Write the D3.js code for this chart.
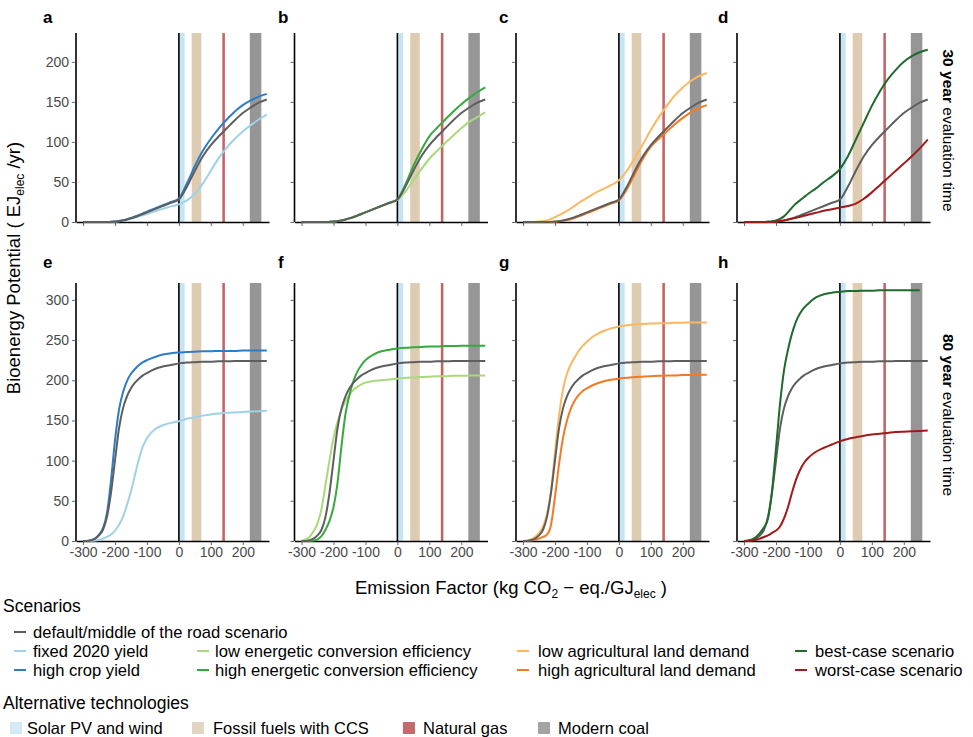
<!DOCTYPE html>
<html>
<head>
<meta charset="utf-8">
<script src="https://cdn.jsdelivr.net/npm/d3@7"></script>
<style>
  body { margin: 0; background: #fff; }
  svg { display: block; font-family: "Liberation Sans", Arial, Helvetica, sans-serif; }
</style>
</head>
<body>
<svg id="chart" width="973" height="737"></svg>
<script>
// Emission factor grid (kg CO2-eq./GJ_elec) shared by all curves
const emissionFactor = [-300, -287.5, -275, -262.5, -250, -237.5, -225, -212.5, -200, -187.5, -175, -162.5,
  -150, -137.5, -125, -112.5, -100, -75, -50, -25, 0, 25, 50, 75, 100, 125, 150, 175, 200, 225, 250, 275];

// 30 year evaluation time (EJ_elec/yr)
const default30   = [0, 0, 0, 0, 0, 0, 0, 0.2, 0.5, 1.2, 2, 3.2, 4.5, 6.2, 8, 10, 12, 16, 20, 24, 28, 44, 64, 82, 96, 107, 117, 127, 136, 143, 149, 153];
const fixedYield30 = [0, 0, 0, 0, 0, 0, 0, 0, 0.4, 1, 1.8, 2.8, 4, 5.5, 7, 8.5, 10, 13.5, 16.5, 19.5, 22, 27, 35, 48, 64, 80, 93, 104, 113, 121, 128, 134];
const highYield30  = [0, 0, 0, 0, 0, 0, 0, 0.2, 0.5, 1.3, 2.2, 3.5, 5, 6.8, 8.7, 10.8, 13, 17, 21, 25, 29.5, 48, 70, 89, 104, 117, 128, 138, 146, 152, 156.5, 160];
const lowConv30    = [0, 0, 0, 0, 0, 0, 0, 0.2, 0.5, 1.2, 2, 3.2, 4.5, 6.2, 8, 10, 12, 16, 20, 23.5, 27.5, 38, 52, 66, 79, 89, 99, 108, 117, 125, 131, 137];
const highConv30   = [0, 0, 0, 0, 0, 0, 0, 0.2, 0.5, 1.2, 2, 3.2, 4.5, 6.2, 8, 10, 12, 16, 20, 24, 28.5, 47, 70, 90, 107, 118, 128, 138, 147, 155, 162, 168];
const lowLand30    = [0, 0, 0, 0.2, 0.5, 1.2, 2, 3.8, 6, 8.5, 11, 14, 17, 20.5, 24, 27, 30, 36, 41, 46, 52, 64, 80, 97, 115, 131, 145, 158, 168, 176, 182, 186];
const highLand30   = [0, 0, 0, 0, 0, 0, 0, 0, 0.3, 0.8, 1.5, 2.5, 3.5, 5.2, 7, 9, 11, 15, 19, 23, 27, 41, 60, 79, 94, 104, 113, 122, 130, 137, 142, 146];
const best30       = [0, 0, 0, 0, 0, 0, 0.5, 1, 2, 4, 7, 12, 18, 23, 27, 31, 35, 42, 50, 57, 66, 82, 103, 124, 145, 163, 178, 190, 200, 207, 212, 215];
const worst30      = [0, 0, 0, 0, 0, 0, 0, 0, 0.5, 1.2, 2, 3, 4, 5.2, 6.5, 7.8, 9, 11.5, 14, 16, 18, 20, 23, 29, 37, 46, 55, 64, 73, 82, 92, 103];

// 80 year evaluation time (EJ_elec/yr)
const default80    = [0, 0, 1, 3, 7, 14, 30, 60, 100, 140, 165, 180, 190, 197, 202, 206, 209, 214, 217, 219, 221, 222, 222.5, 223, 223, 223.5, 223.5, 224, 224, 224, 224, 224];
const fixedYield80 = [0, 0, 0, 0.5, 1.5, 3, 5, 8, 13, 20, 30, 45, 62, 82, 102, 118, 128, 139, 144, 147, 149, 152, 154, 156, 157.5, 158.5, 159.5, 160, 160.5, 161, 161.5, 162];
const highYield80  = [0, 0, 1, 3, 8, 16, 35, 75, 125, 163, 185, 199, 208, 214, 219, 222.5, 225, 229, 232, 233.5, 234.5, 235, 235.5, 236, 236, 236.5, 236.5, 236.5, 237, 237, 237, 237];
const lowConv80    = [0, 2, 5, 12, 22, 40, 70, 100, 128, 148, 163, 174, 182, 188, 192, 195, 197, 199, 200, 201, 202, 203, 203.5, 204, 204.5, 205, 205, 205.5, 205.5, 206, 206, 206];
const highConv80   = [0, 0, 0, 0.5, 2, 6, 14, 25, 42, 72, 118, 158, 182, 199, 211, 219, 225, 232, 236, 238, 239.5, 240.5, 241, 241.5, 242, 242, 242.5, 242.5, 243, 243, 243, 243];
const lowLand80    = [0, 0.5, 2, 5, 10, 18, 34, 62, 110, 155, 188, 208, 220, 229, 237, 243, 248, 256, 261, 264.5, 267, 268.5, 269.5, 270, 270.5, 271, 271, 271.5, 271.5, 272, 272, 272];
const highLand80   = [0, 0, 0.5, 1.5, 3, 5, 8, 20, 55, 95, 128, 150, 165, 175, 182, 187, 190, 195, 198.5, 200.5, 202, 203, 204, 204.5, 205, 205.5, 206, 206, 206.5, 206.5, 207, 207];
const best80       = [0, 0.5, 2, 5, 10, 17, 28, 62, 115, 170, 212, 238, 258, 273, 283, 290, 295, 303, 307, 309, 310, 311, 311, 311.5, 311.5, 312, 312, 312, 312, 312, 312, null];
const worst80      = [0, 0, 0.5, 1.5, 3, 5, 7, 10, 13, 18, 28, 42, 60, 76, 88, 97, 103, 111, 116, 120, 124, 127, 129, 131, 132.5, 133.5, 134.5, 135.5, 136, 136.5, 137, 137.5];

// Alternative technologies: emission factor ranges
const techNames = ["Solar PV and wind", "Fossil fuels with CCS", "Natural gas", "Modern coal"];
const techFrom  = [0, 40, 136, 222];
const techTo    = [18, 70, 144, 258];

// Scenario labels and colours
const scenarioKeys   = ["default", "fixedYield", "highYield", "lowConv", "highConv", "lowLand", "highLand", "best", "worst"];
const scenarioLabels = ["default/middle of the road scenario", "fixed 2020 yield", "high crop yield",
  "low energetic conversion efficiency", "high energetic conversion efficiency",
  "low agricultural land demand", "high agricultural land demand", "best-case scenario", "worst-case scenario"];
const scenarioColors = ["#5e5e5e", "#9fd2e6", "#2d7cc6", "#a9d97c", "#37aa3c", "#fdb761", "#f27a22", "#1f6a2d", "#a11a1a"];
const techColors     = ["#b3dcef", "#d6bf9f", "#c35a5c", "#8b8b8b"];
const techLegendColors = ["#d4eaf4", "#e2d5c3", "#c46a6c", "#a3a3a3"];

const panelLetters = ["a", "b", "c", "d", "e", "f", "g", "h"];
const panelSeries = [
  ["fixedYield", "highYield", "default"],
  ["lowConv", "highConv", "default"],
  ["lowLand", "highLand", "default"],
  ["default", "best", "worst"]
];
const rowLabels = [["30 year", " evaluation time"], ["80 year", " evaluation time"]];
const yTicks = [[0, 50, 100, 150, 200], [0, 50, 100, 150, 200, 250, 300]];
const xTicks = [-300, -200, -100, 0, 100, 200];

const seriesByRow = [
  { default: default30, fixedYield: fixedYield30, highYield: highYield30, lowConv: lowConv30, highConv: highConv30,
    lowLand: lowLand30, highLand: highLand30, best: best30, worst: worst30 },
  { default: default80, fixedYield: fixedYield80, highYield: highYield80, lowConv: lowConv80, highConv: highConv80,
    lowLand: lowLand80, highLand: highLand80, best: best80, worst: worst80 }
];

// ---- layout ----
const svg = d3.select("#chart");
const colLeft = [76, 294.5, 516, 737];
const panelW = 193;
const rowTop = [33, 283];
const rowBottom = [222, 541];
const rowMax = [236, 321];
const letterX = [43, 278, 499, 718];
const letterY = [23, 268];

const colorOf = k => scenarioColors[scenarioKeys.indexOf(k)];

for (let r = 0; r < 2; r++) {
  const y = d3.scaleLinear().domain([0, rowMax[r]]).range([rowBottom[r], rowTop[r]]);
  for (let c = 0; c < 4; c++) {
    const x = d3.scaleLinear().domain([-322, 282]).range([colLeft[c], colLeft[c] + panelW]);
    const g = svg.append("g");

    // technology bands
    g.selectAll("rect.band").data(techNames).join("rect")
      .attr("class", "band")
      .attr("x", (d, i) => x(techFrom[i]))
      .attr("width", (d, i) => x(techTo[i]) - x(techFrom[i]))
      .attr("y", rowTop[r])
      .attr("height", rowBottom[r] - rowTop[r])
      .attr("fill", (d, i) => techColors[i])
      .attr("opacity", (d, i) => [0.75, 0.8, 0.95, 0.9][i]);

    // zero emission line
    g.append("line")
      .attr("x1", x(0)).attr("x2", x(0))
      .attr("y1", rowTop[r]).attr("y2", rowBottom[r])
      .attr("stroke", "#000").attr("stroke-width", 1.6);

    // axes
    const yAxis = d3.axisLeft(y).tickValues(yTicks[r]).tickSize(4).tickSizeOuter(0).tickPadding(3)
      .tickFormat(c === 0 ? d => String(d) : () => "");
    const ya = g.append("g").attr("transform", `translate(${colLeft[c]},0)`).call(yAxis);
    const xAxis = d3.axisBottom(x).tickValues(xTicks).tickSize(4).tickSizeOuter(0).tickPadding(2)
      .tickFormat(r === 1 ? d => String(d) : () => "");
    const xa = g.append("g").attr("transform", `translate(0,${rowBottom[r]})`).call(xAxis);
    [ya, xa].forEach(a => {
      a.select(".domain").attr("stroke", "#000").attr("stroke-width", 1.6);
      a.selectAll(".tick line").attr("stroke", "#444").attr("stroke-width", 0.8);
      a.selectAll(".tick text").attr("fill", "#4a4a4a").style("font-size", "14px")
        .style("font-family", "'Liberation Sans', Arial, sans-serif");
    });
    ya.select(".domain").attr("d", `M0,${rowBottom[r]}V${rowTop[r]}`);

    // scenario curves
    const line = d3.line()
      .defined(d => d[1] != null)
      .x(d => x(d[0]))
      .y(d => y(d[1]))
      .curve(d3.curveMonotoneX);
    panelSeries[c].forEach(k => {
      const vals = seriesByRow[r][k];
      const pts = emissionFactor.map((e, i) => [e, vals[i]]);
      g.append("path")
        .attr("d", line(pts))
        .attr("fill", "none")
        .attr("stroke", colorOf(k))
        .attr("stroke-width", 2)
        .attr("stroke-linejoin", "round");
    });

    // panel letter
    svg.append("text")
      .attr("x", letterX[c]).attr("y", letterY[r])
      .attr("font-weight", "bold").attr("font-size", 17)
      .text(panelLetters[r * 4 + c]);
  }

  // row strip label
  const cy = (rowTop[r] + rowBottom[r]) / 2 + 3;
  const st = svg.append("text")
    .attr("transform", `translate(943,${cy}) rotate(90)`)
    .attr("text-anchor", "middle").attr("font-size", 15.5);
  st.append("tspan").attr("font-weight", "bold").text(rowLabels[r][0]);
  st.append("tspan").text(rowLabels[r][1]);
}

// y title
const yt = svg.append("text")
  .attr("transform", "translate(20,268) rotate(-90)")
  .attr("text-anchor", "middle").attr("font-size", 18.5);
yt.append("tspan").text("Bioenergy Potential ( EJ");
yt.append("tspan").attr("font-size", 12).attr("dy", 4).text("elec");
yt.append("tspan").attr("dy", -4).text(" /yr)");

// x title
const xt = svg.append("text")
  .attr("x", 511).attr("y", 594)
  .attr("text-anchor", "middle").attr("font-size", 18.5);
xt.append("tspan").text("Emission Factor (kg CO");
xt.append("tspan").attr("font-size", 12).attr("dy", 4).text("2");
xt.append("tspan").attr("dy", -4).text(" \u2212 eq./GJ");
xt.append("tspan").attr("font-size", 12).attr("dy", 4).text("elec");
xt.append("tspan").attr("dy", -4).text(" )");

// ---- legend ----
const lg = svg.append("g").attr("font-size", 16.6);
lg.append("text").attr("x", 3).attr("y", 612).attr("font-size", 17.5).text("Scenarios");
const legRowY = [632, 651, 670];
const legColSym = [14, 197, 517, 795];
const legColTxt = [33, 215, 538, 815];
// placement of each scenario: [column, row]
const legPos = [[0, 0], [0, 1], [0, 2], [1, 1], [1, 2], [2, 1], [2, 2], [3, 1], [3, 2]];
scenarioKeys.forEach((k, i) => {
  const [cc, rr] = legPos[i];
  lg.append("line")
    .attr("x1", legColSym[cc]).attr("x2", legColSym[cc] + 12)
    .attr("y1", legRowY[rr]).attr("y2", legRowY[rr])
    .attr("stroke", scenarioColors[i]).attr("stroke-width", 2);
  lg.append("text").attr("x", legColTxt[cc]).attr("y", legRowY[rr] + 6).text(scenarioLabels[i]);
});
lg.append("text").attr("x", 3).attr("y", 709).attr("font-size", 17.5).text("Alternative technologies");
const techSq = [10, 192, 403, 538];
const techTx = [27, 213, 423, 558];
techNames.forEach((n, i) => {
  lg.append("rect").attr("x", techSq[i]).attr("y", 722).attr("width", 12).attr("height", 12)
    .attr("fill", techLegendColors[i]);
  lg.append("text").attr("x", techTx[i]).attr("y", 734).attr("font-size", 16.5).text(n);
});
</script>
</body>
</html>
